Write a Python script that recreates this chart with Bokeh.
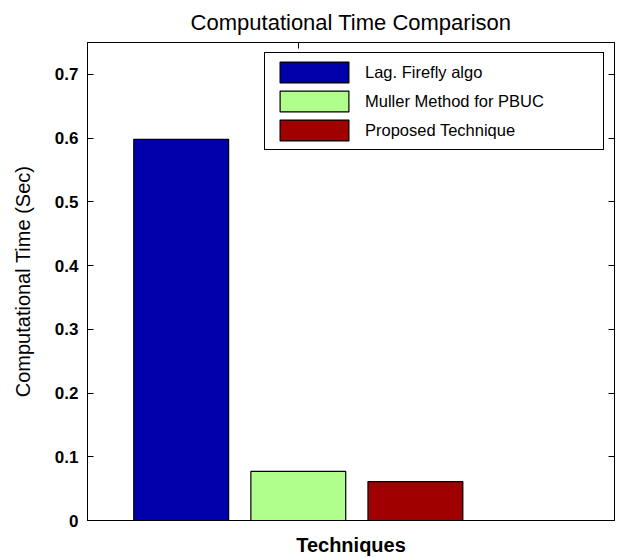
from bokeh.plotting import figure
from bokeh.models import Range1d, LinearAxis, FixedTicker, Legend, LegendItem
from bokeh.embed import file_html
from bokeh.resources import INLINE

# ---- data ----
techniques = ["Lag. Firefly algo", "Muller Method for PBUC", "Proposed Technique"]
comp_time = [0.598, 0.077, 0.061]
bar_colors = ["#0000AA", "#B0FF8C", "#A00000"]
y_ticks = [0.0, 0.1, 0.2, 0.3, 0.4, 0.5, 0.6, 0.7]
y_tick_labels = ["0", "0.1", "0.2", "0.3", "0.4", "0.5", "0.6", "0.7"]
group_center = 1.0
bar_offset = 0.2222
bar_width = 0.18

FONT = "Liberation Sans"

p = figure(width=619, height=558, output_backend="svg", toolbar_location=None,
           x_range=Range1d(0.6, 1.6), y_range=Range1d(0, 0.75),
           min_border_left=87, min_border_right=5, min_border_top=42, min_border_bottom=37,
           title="Computational Time Comparison")

p.title.text_font = FONT
p.title.text_font_size = "22px"
p.title.text_font_style = "normal"
p.title.align = "center"
p.title.text_color = "black"
p.title.standoff = 15

p.xgrid.visible = False
p.ygrid.visible = False
p.outline_line_color = "black"
p.outline_line_alpha = 1.0
p.outline_line_width = 1
p.background_fill_color = "white"
p.border_fill_color = "white"

# left axis
ya = p.yaxis[0]
ya.ticker = FixedTicker(ticks=y_ticks)
ya.major_label_overrides = dict(zip(y_ticks, y_tick_labels))
ya.major_tick_in = 6
ya.major_tick_out = 0
ya.minor_tick_line_color = None
ya.major_label_standoff = 9
ya.major_label_text_font = FONT
ya.major_label_text_font_size = "17px"
ya.major_label_text_font_style = "bold"
ya.major_label_text_color = "black"
ya.axis_line_color = "black"
ya.major_tick_line_color = "black"
ya.axis_label = "Computational Time (Sec)"
ya.axis_label_text_font = FONT
ya.axis_label_text_font_size = "20px"
ya.axis_label_text_font_style = "normal"
ya.axis_label_text_color = "black"
ya.axis_label_standoff = 18

# bottom axis (no ticks)
xa = p.xaxis[0]
xa.ticker = FixedTicker(ticks=[])
xa.major_tick_in = 0
xa.major_tick_out = 0
xa.minor_tick_line_color = None
xa.major_label_standoff = 0
xa.axis_line_color = "black"
xa.axis_label = "Techniques"
xa.axis_label_text_font = FONT
xa.axis_label_text_font_size = "20px"
xa.axis_label_text_font_style = "bold"
xa.axis_label_text_color = "black"
xa.axis_label_standoff = 13

# top and right axes (inward ticks only, blank labels)
top = LinearAxis(ticker=FixedTicker(ticks=[group_center]), major_tick_in=6, major_tick_out=0,
                 minor_tick_line_color=None, major_label_overrides={group_center: ""},
                 major_label_standoff=0, axis_line_color="black", major_tick_line_color="black")
p.add_layout(top, "above")
right = LinearAxis(ticker=FixedTicker(ticks=y_ticks), major_tick_in=6, major_tick_out=0,
                   minor_tick_line_color=None,
                   major_label_overrides={t: "" for t in y_ticks},
                   major_label_standoff=0, axis_line_color="black", major_tick_line_color="black")
p.add_layout(right, "right")

items = []
for i, (name, val, col) in enumerate(zip(techniques, comp_time, bar_colors)):
    r = p.vbar(x=[group_center + (i - 1) * bar_offset], top=[val], bottom=0, width=bar_width,
               fill_color=col, line_color="black", line_width=1.2)
    items.append(LegendItem(label=name, renderers=[r]))

legend = Legend(items=items, location="top_right", margin=10, padding=6,
                glyph_width=86, glyph_height=26, spacing=3, label_standoff=8,
                label_width=232, label_height=26,
                label_text_font=FONT, label_text_font_size="16.5px", label_text_color="black",
                border_line_color="black", border_line_width=1, border_line_alpha=1.0,
                background_fill_color="white", background_fill_alpha=1.0)
p.add_layout(legend)

open("out.html", "w").write(file_html(p, INLINE))
